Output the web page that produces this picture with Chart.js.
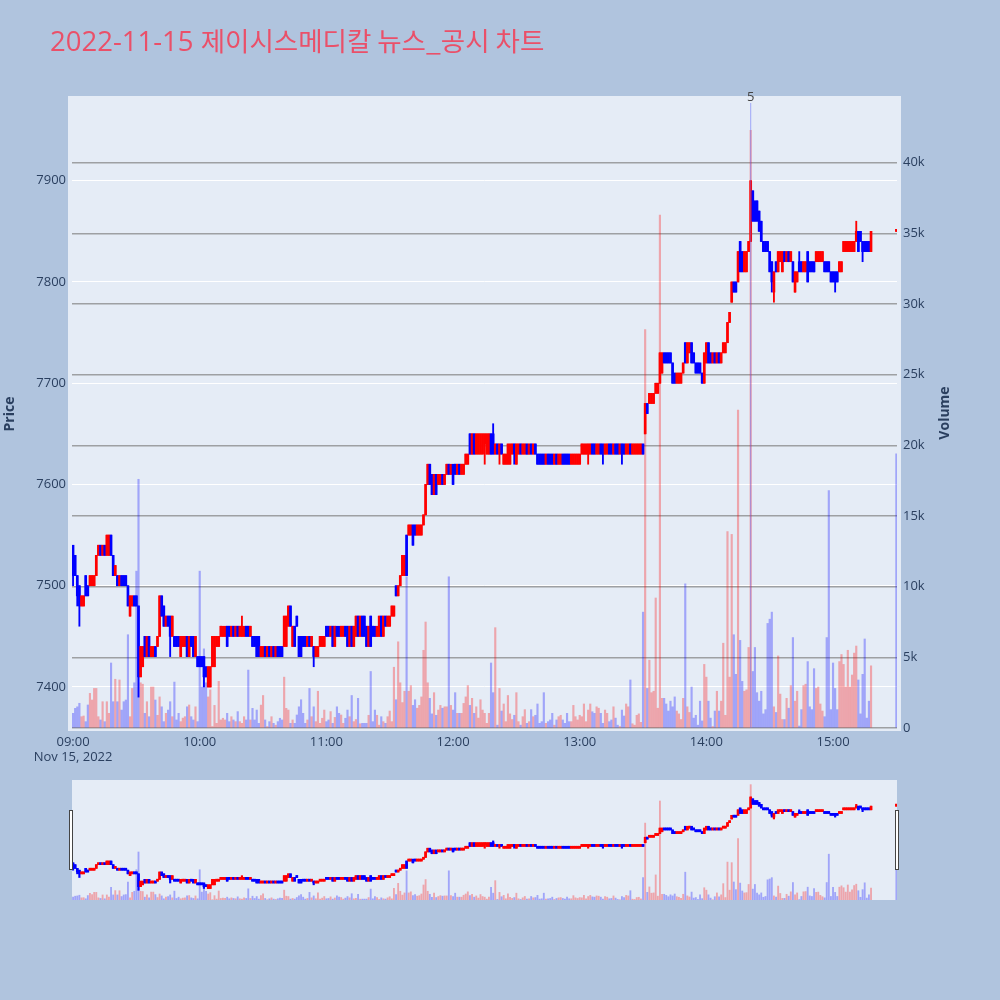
<!DOCTYPE html>
<html>
<head>
<meta charset="utf-8">
<script src="https://cdn.jsdelivr.net/npm/chart.js@4.4.1/dist/chart.umd.min.js"></script>
<style>
  body { margin: 0; width: 1000px; height: 1000px; background: #b0c4de; position: relative; overflow: hidden; }
  canvas { position: absolute; left: 0; display: block; }
  #chartMain { top: 0; }
  #chartSlider { top: 770px; }
  #title { position: absolute; left: 50px; top: 23px; z-index: 2; white-space: nowrap;
           color: #ea5069; font-family: "Open Sans", "Noto Sans CJK KR", sans-serif; font-size: 27.5px; line-height: 34px; }
  #title .ko { font-family: "Noto Sans CJK KR", sans-serif; font-size: 26.5px; }
</style>
</head>
<body>
<canvas id="chartMain" width="1000" height="770"></canvas>
<canvas id="chartSlider" width="1000" height="140"></canvas>
<div id="title">2022-11-15 <span class="ko">제이시스메디칼 뉴스_공시 차트</span></div>
<script>
// x values are minutes after 09:00
const hourLabels = ['09:00', '10:00', '11:00', '12:00', '13:00', '14:00', '15:00'];
const dateLabel = 'Nov 15, 2022';
const priceTicks = [7400, 7500, 7600, 7700, 7800, 7900];
const volumeTicks = [0, 5000, 10000, 15000, 20000, 25000, 30000, 35000, 40000];
const lastMinute = 378;     // last regular 1-min bar (15:18)
const closingMinute = 390;  // 15:30 closing auction, last entry of every array

const opens = [
  7540,7530,7510,7500,7480,7480,7510,7500,7500,7500,
  7500,7510,7530,7540,7530,7540,7530,7530,7550,7530,
  7510,7510,7500,7510,7510,7510,7500,7470,7480,7490,
  7490,7480,7410,7420,7450,7430,7450,7430,7430,7440,
  7440,7450,7490,7480,7460,7470,7470,7450,7450,7450,
  7450,7430,7440,7440,7450,7430,7450,7450,7430,7430,
  7430,7430,7430,7420,7400,7400,7420,7420,7440,7440,
  7450,7450,7450,7460,7460,7450,7460,7450,7460,7450,
  7450,7450,7460,7460,7450,7450,7450,7450,7450,7430,
  7430,7440,7430,7440,7430,7440,7430,7440,7440,7440,
  7440,7440,7460,7480,7440,7460,7470,7450,7450,7450,
  7450,7440,7450,7440,7440,7430,7430,7440,7440,7440,
  7460,7460,7450,7460,7440,7460,7460,7450,7450,7460,
  7460,7440,7460,7440,7450,7470,7450,7470,7470,7460,
  7440,7470,7460,7460,7450,7450,7470,7450,7470,7460,
  7460,7470,7470,7500,7490,7500,7510,7510,7550,7550,
  7550,7560,7560,7550,7550,7550,7560,7570,7600,7620,
  7610,7590,7610,7600,7600,7610,7600,7610,7620,7610,
  7620,7620,7610,7620,7610,7610,7620,7620,7650,7630,
  7650,7630,7630,7630,7630,7640,7630,7630,7650,7650,
  7630,7640,7630,7640,7620,7620,7620,7620,7630,7640,
  7620,7630,7640,7630,7630,7640,7630,7640,7630,7640,
  7630,7630,7630,7630,7620,7630,7630,7630,7620,7630,
  7620,7620,7630,7630,7630,7630,7620,7620,7620,7620,
  7620,7630,7630,7630,7630,7630,7640,7640,7630,7630,
  7640,7640,7630,7630,7640,7640,7630,7640,7640,7630,
  7640,7640,7630,7630,7640,7630,7630,7630,7630,7630,
  7640,7650,7680,7680,7680,7680,7690,7690,7700,7710,
  7730,7730,7730,7730,7720,7710,7700,7700,7700,7710,
  7740,7720,7730,7740,7730,7720,7720,7720,7710,7700,
  7720,7740,7730,7720,7730,7720,7730,7720,7730,7730,
  7740,7760,7780,7800,7800,7800,7840,7830,7810,7810,
  7830,7840,7890,7880,7880,7870,7860,7840,7840,7840,
  7830,7820,7790,7820,7810,7820,7810,7830,7820,7830,
  7820,7820,7790,7800,7820,7820,7810,7810,7830,7820,
  7820,7820,7820,7820,7820,7820,7820,7820,7820,7810,
  7810,7810,7810,7810,7810,7830,7830,7830,7830,7830,
  7830,7840,7850,7850,7840,7840,7840,7840,7830,
  7850
];
const closes = [
  7510,7510,7490,7480,7490,7490,7490,7490,7510,7510,
  7510,7530,7540,7530,7540,7530,7550,7550,7530,7510,
  7520,7500,7510,7500,7500,7500,7480,7490,7490,7480,
  7480,7410,7440,7440,7430,7450,7430,7440,7440,7430,
  7450,7490,7470,7460,7470,7460,7450,7470,7440,7440,
  7440,7450,7450,7450,7430,7450,7440,7430,7450,7420,
  7420,7420,7410,7410,7420,7420,7450,7450,7450,7450,
  7460,7460,7460,7440,7450,7460,7450,7460,7450,7460,
  7460,7460,7450,7450,7460,7440,7440,7430,7430,7440,
  7440,7430,7440,7430,7440,7430,7440,7430,7430,7430,
  7470,7470,7480,7460,7460,7440,7460,7430,7430,7440,
  7440,7450,7440,7450,7430,7440,7440,7450,7450,7450,
  7450,7450,7460,7440,7460,7450,7450,7460,7460,7450,
  7440,7460,7440,7460,7470,7450,7470,7450,7450,7440,
  7460,7440,7450,7450,7460,7470,7450,7470,7460,7470,
  7470,7480,7480,7490,7500,7510,7530,7530,7510,7560,
  7560,7540,7550,7560,7560,7560,7570,7600,7620,7600,
  7590,7610,7590,7610,7610,7600,7610,7620,7610,7620,
  7600,7610,7620,7610,7620,7620,7630,7630,7630,7650,
  7630,7650,7650,7650,7650,7650,7650,7650,7630,7630,
  7640,7630,7640,7630,7630,7630,7640,7640,7640,7630,
  7640,7640,7630,7640,7640,7630,7640,7630,7640,7630,
  7620,7620,7620,7620,7630,7620,7620,7620,7630,7620,
  7630,7630,7620,7620,7620,7620,7630,7630,7630,7630,
  7630,7640,7640,7640,7640,7640,7630,7630,7640,7640,
  7630,7630,7640,7640,7630,7630,7640,7630,7630,7640,
  7630,7630,7640,7640,7630,7640,7640,7640,7640,7640,
  7630,7680,7670,7690,7690,7690,7700,7700,7730,7730,
  7720,7720,7720,7720,7700,7700,7710,7710,7710,7720,
  7720,7740,7740,7720,7720,7710,7710,7710,7700,7730,
  7740,7720,7720,7730,7720,7730,7720,7730,7740,7740,
  7760,7770,7800,7790,7790,7830,7810,7810,7830,7830,
  7840,7900,7860,7860,7860,7850,7840,7830,7830,7830,
  7810,7800,7810,7810,7830,7830,7830,7820,7830,7820,
  7830,7800,7810,7810,7810,7810,7820,7820,7800,7810,
  7810,7810,7830,7830,7830,7830,7810,7810,7810,7800,
  7800,7800,7800,7820,7820,7840,7840,7840,7840,7840,
  7840,7850,7830,7840,7830,7830,7830,7830,7850,
  7850
];
const volumes = [
  1040,1390,1500,1750,800,850,450,1630,2450,1980,
  2800,2800,800,570,1860,450,1860,1040,4600,1860,
  3450,1860,3400,1270,1860,1980,6600,800,2800,3200,
  11100,17600,3200,3100,1040,1860,800,2900,2900,1980,
  900,2200,1500,450,1040,1270,1860,800,3250,570,
  1040,450,700,800,1500,1630,800,570,1500,450,
  11100,2900,5600,3200,2200,2700,100,1600,330,3300,
  570,690,570,1040,450,800,570,450,1160,450,
  330,800,570,4100,570,1390,570,1270,330,1620,
  2300,570,100,450,800,330,200,450,690,570,
  3600,1390,1270,330,570,330,920,1500,2000,1040,
  330,570,2800,800,1500,450,2600,330,690,1270,
  450,570,1160,330,750,1500,1040,920,330,690,
  1270,800,2300,450,600,2100,300,330,330,330,
  900,4000,450,1270,900,200,800,450,330,800,
  1200,450,4300,2000,6100,3200,1800,2600,10700,2600,
  3000,1600,2000,1400,1600,2200,5500,7500,3200,2100,
  1000,2500,900,1270,1600,1400,1500,1500,10700,1600,
  1270,2500,1040,1040,1040,1740,2200,3000,1600,2100,
  1040,1500,700,2000,1270,1040,330,1040,4600,2500,
  7100,200,2800,1200,1700,450,2300,1000,600,900,
  2500,450,200,800,1300,330,450,1300,800,900,
  1700,330,450,2500,330,450,570,1040,200,570,
  800,900,570,330,1040,450,450,1600,800,570,
  900,800,1700,450,1270,1700,1150,1040,1500,1400,
  1040,330,1270,1040,450,570,1500,700,200,100,
  1270,850,1700,1500,3400,300,200,900,1000,400,
  8200,28200,2800,4800,2500,2600,9200,1400,36300,2100,
  2100,1700,1200,1900,1500,2200,1200,1000,600,2100,
  10200,1500,1100,2900,700,900,200,1900,500,4500,
  3600,1900,700,100,1200,2600,1200,1900,6000,900,
  13900,3600,13700,6600,3800,22500,6200,3300,2600,2700,
  5700,42300,4000,5700,2500,1900,2600,1000,1300,7400,
  7700,8200,1500,1100,5100,2400,600,600,2100,1400,
  3000,6400,1900,2600,140,1300,3000,3100,4700,1500,
  1300,4200,2800,2900,1700,1200,800,6400,16800,1300,
  4600,2800,1300,4700,5200,4500,2900,5500,2900,3750,
  5300,5800,3400,1000,3800,6300,700,1900,4400,
  19400
];
// wick ends that stick out past the body: [minute, price]
const upperWicks = [[80, 7470], [199, 7660], [344, 7830], [371, 7860]];
const lowerWicks = [[0, 7500], [2, 7480], [3, 7460], [31, 7390], [46, 7430], [62, 7400], [114, 7420],
  [195, 7620], [202, 7620], [209, 7620], [244, 7620], [251, 7620], [260, 7620],
  [331, 7790], [332, 7780], [361, 7790], [374, 7820]];
// news marker: [minute, label]
const newsMarks = [[321, '5']];

const RED = '#ff0000';
const BLUE = '#0000ff';
const RED_VOL = 'rgba(255, 0, 0, 0.3)';
const BLUE_VOL = 'rgba(0, 0, 255, 0.3)';
const TEXT = '#2a3f5f';

Chart.defaults.font.family = '"Open Sans", sans-serif';

const xs = opens.map((o, i) => (i <= lastMinute ? i : closingMinute));
const highs = opens.map((o, i) => Math.max(o, closes[i]));
const lows = opens.map((o, i) => Math.min(o, closes[i]));
upperWicks.forEach(([m, p]) => { highs[m] = p; });
lowerWicks.forEach(([m, p]) => { lows[m] = p; });
const candleColors = opens.map((o, i) => (closes[i] >= o ? RED : BLUE));
const volColors = opens.map((o, i) => (closes[i] > o ? RED_VOL : BLUE_VOL));

function makeDatasets(wickW, bodyW, volW) {
  return [
    {
      label: 'Volume',
      data: xs.map((x, i) => ({ x: x, y: volumes[i] })),
      yAxisID: 'yVol',
      backgroundColor: volColors,
      barThickness: volW,
      grouped: false,
      order: 3
    },
    {
      label: 'High-Low',
      data: xs.map((x, i) => ({ x: x, y: [lows[i], highs[i]] })),
      yAxisID: 'y',
      backgroundColor: candleColors,
      barThickness: wickW,
      grouped: false,
      order: 2
    },
    {
      label: 'Open-Close',
      data: xs.map((x, i) => ({ x: x, y: [opens[i], closes[i]] })),
      yAxisID: 'y',
      backgroundColor: candleColors,
      barThickness: bodyW,
      minBarLength: 2,
      grouped: false,
      order: 1
    }
  ];
}

function drawVerticalTitle(ctx, text, x, y) {
  ctx.save();
  ctx.font = 'bold 14px "Open Sans"';
  ctx.fillStyle = TEXT;
  ctx.textAlign = 'center';
  ctx.textBaseline = 'middle';
  ctx.translate(x, y);
  ctx.rotate(-Math.PI / 2);
  ctx.fillText(text, 0, 0);
  ctx.restore();
}

const mainDecor = {
  id: 'mainDecor',
  beforeDraw(chart) {
    const a = chart.chartArea;
    const ctx = chart.ctx;
    ctx.save();
    ctx.fillStyle = '#e5ecf6';
    ctx.fillRect(a.left - 4, a.top - 4, a.right - a.left + 8, a.bottom - a.top + 7);
    ctx.restore();
  },
  afterDatasetsDraw(chart) {
    const a = chart.chartArea;
    const ctx = chart.ctx;
    const xScale = chart.scales.x;
    ctx.save();
    newsMarks.forEach(([m, label]) => {
      const px = xScale.getPixelForValue(m);
      ctx.strokeStyle = 'rgba(99, 110, 250, 0.55)';
      ctx.lineWidth = 1;
      ctx.beginPath();
      ctx.moveTo(px, a.top + 3);
      ctx.lineTo(px, a.bottom);
      ctx.stroke();
      ctx.fillStyle = '#444';
      ctx.font = '13px "Open Sans"';
      ctx.textAlign = 'center';
      ctx.textBaseline = 'middle';
      ctx.fillText(label, px, a.top - 3);
    });
    ctx.restore();
  },
  afterDraw(chart) {
    drawVerticalTitle(chart.ctx, 'Price', 10, 414);
    drawVerticalTitle(chart.ctx, 'Volume', 945, 413);
  }
};

const tickFont = { size: 13 };

new Chart(document.getElementById('chartMain'), {
  type: 'bar',
  data: { datasets: makeDatasets(1.2, 2, 1.5) },
  options: {
    responsive: false,
    animation: false,
    layout: { padding: { top: 100, left: 0, right: 0, bottom: 0 } },
    plugins: { legend: { display: false }, tooltip: { enabled: false } },
    scales: {
      x: {
        type: 'linear',
        min: -0.5,
        max: 390.3,
        offset: false,
        grid: { display: false, drawTicks: false },
        border: { display: false },
        afterBuildTicks: (s) => { s.ticks = hourLabels.map((h, i) => ({ value: i * 60 })); },
        ticks: {
          autoSkip: false,
          maxRotation: 0,
          padding: 6,
          color: TEXT,
          font: tickFont,
          callback: (v) => (v === 0 ? [hourLabels[0], dateLabel] : hourLabels[v / 60])
        },
        afterFit: (s) => { s.height = 42; }
      },
      y: {
        position: 'left',
        min: 7359.5,
        max: 7979.7,
        grid: { color: '#ffffff', lineWidth: 1, drawTicks: false },
        border: { display: false },
        afterBuildTicks: (s) => { s.ticks = priceTicks.map((v) => ({ value: v })); },
        ticks: { padding: 6, color: TEXT, font: tickFont, callback: (v) => String(v) },
        afterFit: (s) => { s.width = 72; }
      },
      yVol: {
        position: 'right',
        min: 0,
        max: 44440,
        grid: { color: 'rgba(128, 128, 128, 0.7)', lineWidth: 1.5, drawTicks: false },
        border: { display: false },
        afterBuildTicks: (s) => { s.ticks = volumeTicks.map((v) => ({ value: v })); },
        ticks: {
          padding: 6, color: TEXT, font: tickFont,
          callback: (v) => (v === 0 ? '0' : (v / 1000) + 'k')
        },
        afterFit: (s) => { s.width = 103; }
      }
    }
  },
  plugins: [mainDecor]
});

// range slider underneath: same data, small
const sliderDecor = {
  id: 'sliderDecor',
  beforeDraw(chart) {
    const a = chart.chartArea;
    const ctx = chart.ctx;
    ctx.save();
    ctx.fillStyle = '#e5ecf6';
    ctx.fillRect(a.left, a.top, a.right - a.left, a.bottom - a.top);
    ctx.restore();
  },
  afterDraw(chart) {
    const a = chart.chartArea;
    const ctx = chart.ctx;
    ctx.save();
    ctx.fillStyle = '#ffffff';
    ctx.strokeStyle = '#444444';
    ctx.lineWidth = 1;
    [a.left - 3, a.right - 2].forEach((hx) => {
      ctx.fillRect(hx, a.top + 30, 4, 60);
      ctx.strokeRect(hx + 0.5, a.top + 30.5, 3, 59);
    });
    ctx.restore();
  }
};

new Chart(document.getElementById('chartSlider'), {
  type: 'bar',
  data: { datasets: makeDatasets(1.5, 2, 1.2) },
  options: {
    responsive: false,
    animation: false,
    layout: { padding: { top: 10, bottom: 10, left: 72, right: 103 } },
    plugins: { legend: { display: false }, tooltip: { enabled: false } },
    scales: {
      x: { type: 'linear', min: -0.5, max: 390.3, offset: false, display: false },
      y: { min: 7337, max: 7993, display: false },
      yVol: { min: 0, max: 44000, display: false }
    }
  },
  plugins: [sliderDecor]
});
</script>
</body>
</html>
